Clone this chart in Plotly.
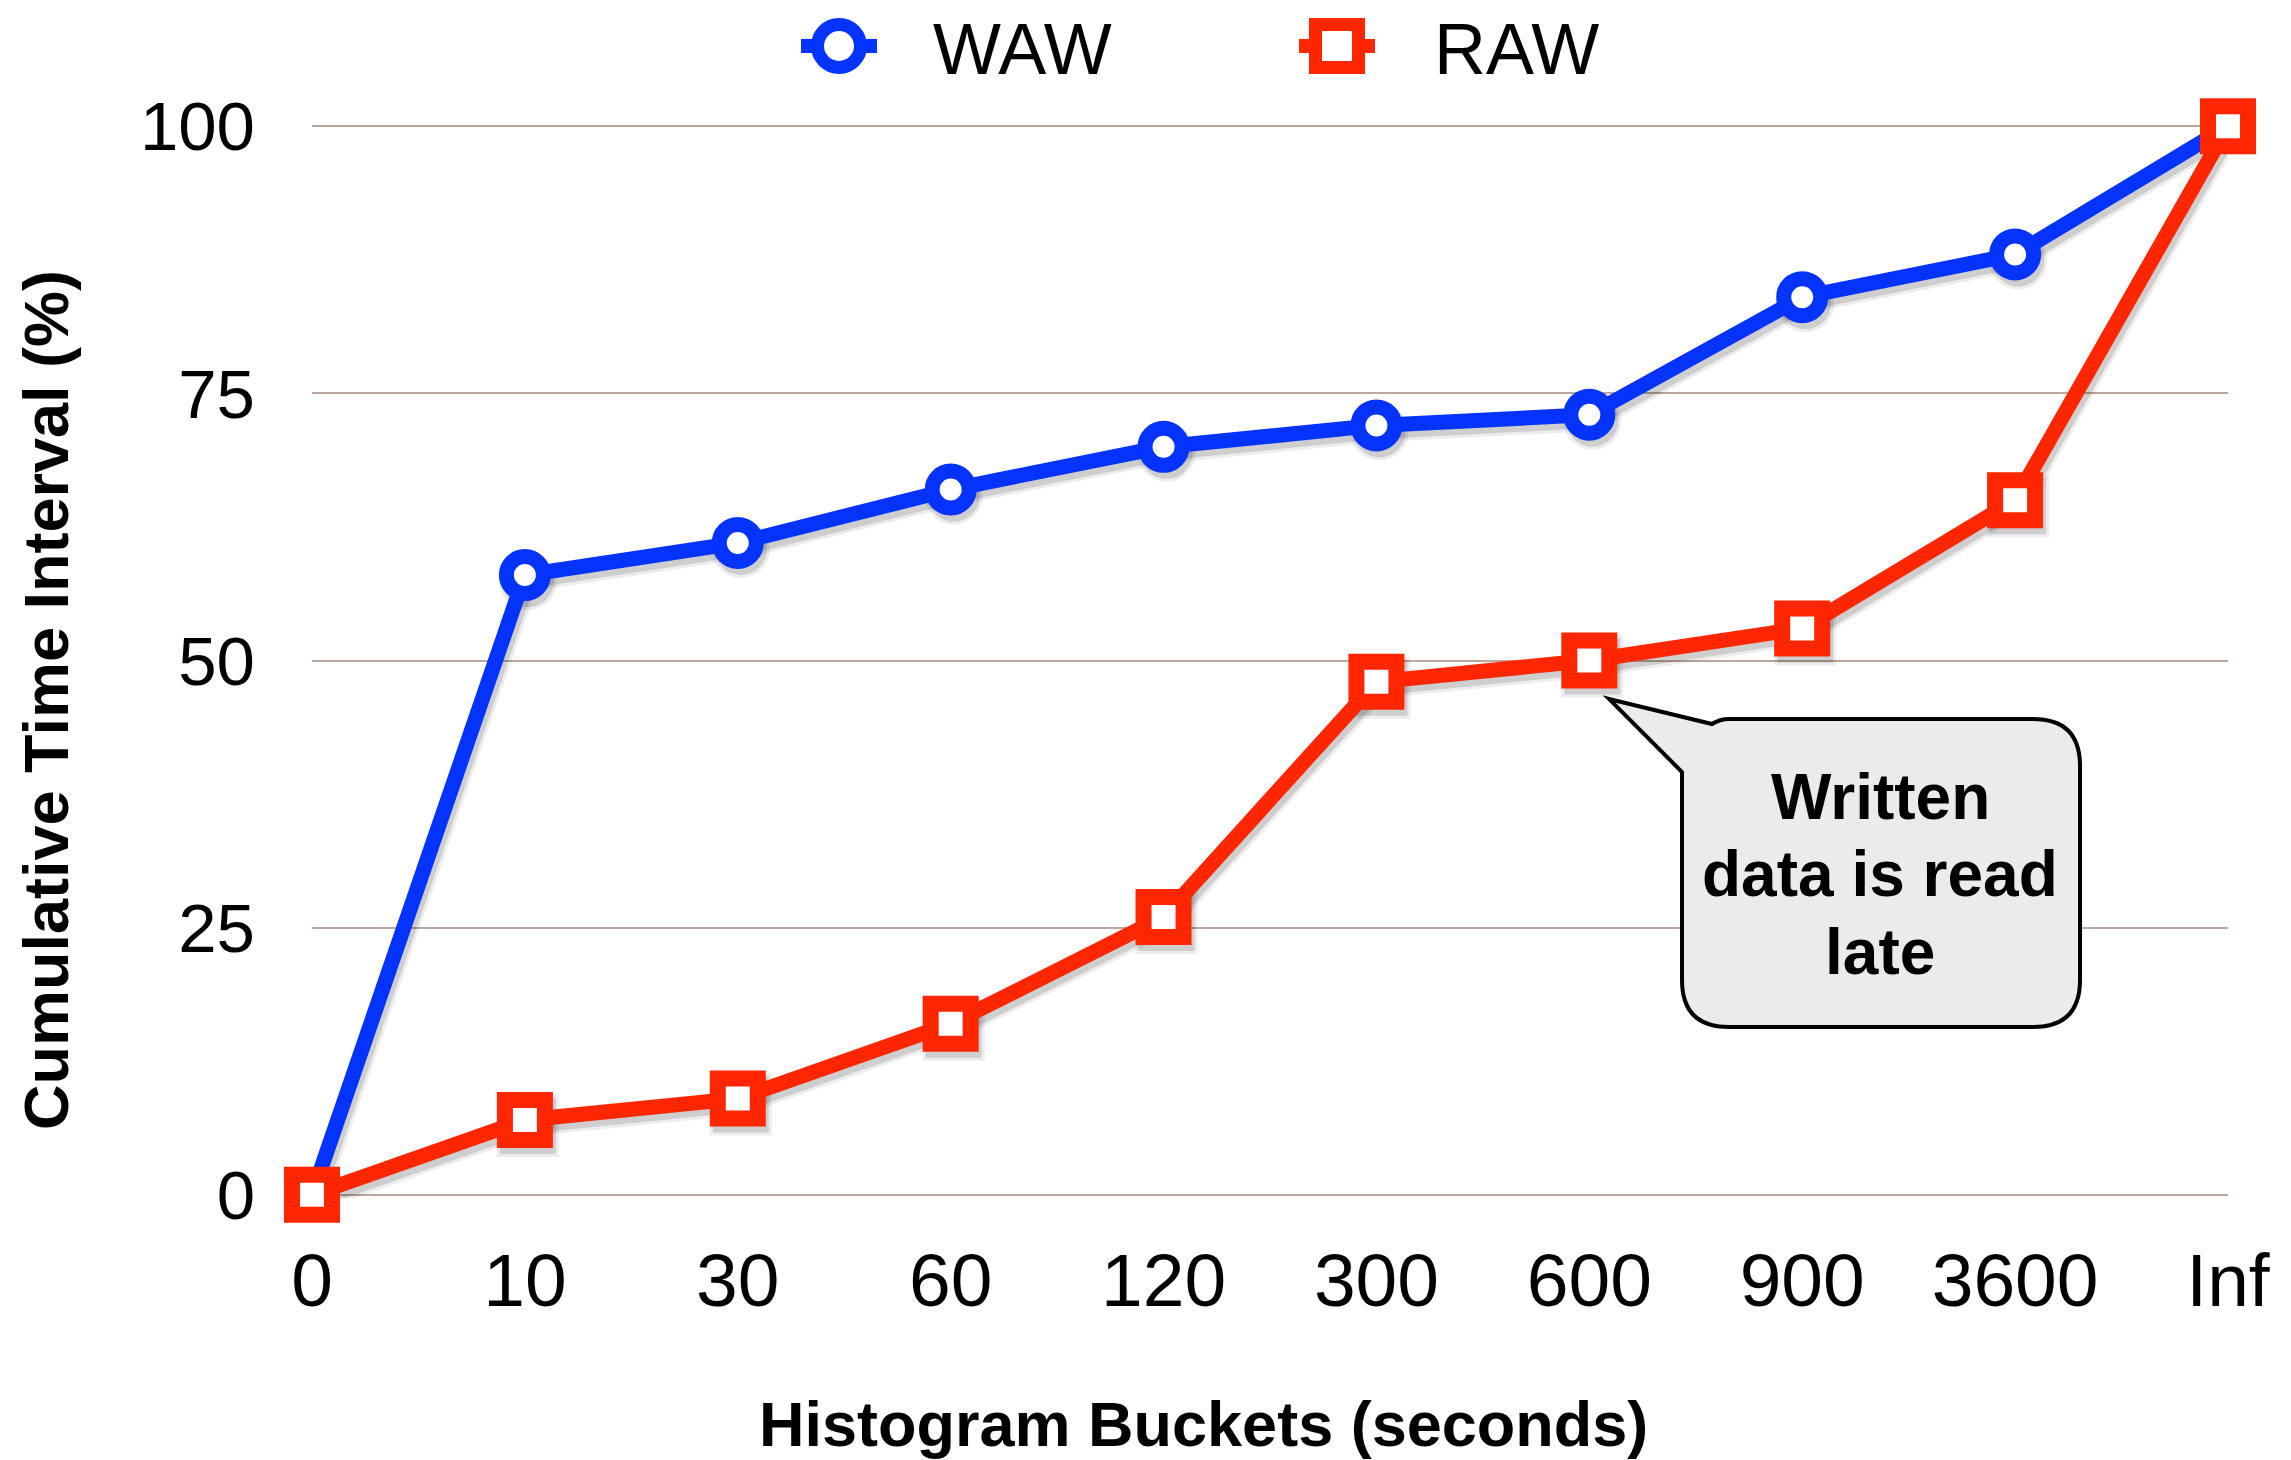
import plotly.graph_objects as go

# ---- data ----
buckets = ["0", "10", "30", "60", "120", "300", "600", "900", "3600", "Inf"]
waw = [0, 58, 61, 66, 70, 72, 73, 84, 88, 100]
raw = [0, 7, 9, 16, 26, 48, 50, 53, 65, 100]
y_ticks = [0, 25, 50, 75, 100]

BLUE = "#0433FF"
RED = "#FF2600"
GRID = "#BCA79D"
FONT = "Liberation Sans, Arial, Helvetica, sans-serif"

W, H = 2291, 1460
# plot-area pixel box
PL, PR, PT, PB = 312, 2228, 123, 1198


def px2x(px):
    return (px - PL) / (PR - PL)


def px2y(py):
    return (PB - py) / (PB - PT)


xs = list(range(len(buckets)))
YRANGE = [-0.3, 100.3]
x_unit = (PR - PL) / (len(buckets) - 1)
y_unit = (PB - PT) / (YRANGE[1] - YRANGE[0])

fig = go.Figure()

# soft drop shadows (offset copies of each series)
for series, sym, msize, mlw in [(waw, "circle", 37, 15), (raw, "square", 40, 16)]:
    for extra, alpha in [(6, 0.07), (0, 0.13)]:
        fig.add_trace(go.Scatter(
            x=[v + 3 / x_unit for v in xs],
            y=[v - 6 / y_unit for v in series],
            mode="lines+markers", hoverinfo="skip", showlegend=False,
            line=dict(color=f"rgba(0,0,0,{alpha})", width=15 + extra),
            marker=dict(symbol=sym, size=msize, color="rgba(0,0,0,0)",
                        line=dict(color=f"rgba(0,0,0,{alpha})",
                                  width=mlw + extra)),
            cliponaxis=False,
        ))

fig.add_trace(go.Scatter(
    x=xs, y=waw, name="WAW", mode="lines+markers",
    line=dict(color=BLUE, width=15),
    marker=dict(symbol="circle", size=37, color="white",
                line=dict(color=BLUE, width=15)),
    cliponaxis=False,
))
fig.add_trace(go.Scatter(
    x=xs, y=raw, name="RAW", mode="lines+markers",
    line=dict(color=RED, width=15),
    marker=dict(symbol="square", size=40, color="white",
                line=dict(color=RED, width=16)),
    cliponaxis=False,
))

# ---- custom legend drawn as decorations ----
LEG_Y = 46
for cx, tx, color, kind, label in [
    (839, 932, BLUE, "circle", "WAW"),
    (1337, 1433, RED, "rect", "RAW"),
]:
    fig.add_shape(type="line", xref="paper", yref="paper",
                  x0=px2x(cx - 38), x1=px2x(cx + 38),
                  y0=px2y(LEG_Y), y1=px2y(LEG_Y),
                  line=dict(color=color, width=14), layer="above")
    half = 21.5
    fig.add_shape(type=kind, xref="paper", yref="paper",
                  x0=px2x(cx - half), x1=px2x(cx + half),
                  y0=px2y(LEG_Y + half), y1=px2y(LEG_Y - half),
                  fillcolor="white", line=dict(color=color, width=13),
                  layer="above")
    fig.add_annotation(x=px2x(tx), y=px2y(LEG_Y + 3), xref="paper",
                       yref="paper", text=label, showarrow=False,
                       xanchor="left", yanchor="middle", borderpad=0,
                       font=dict(family=FONT, size=72, color="black"))

# ---- callout bubble ----
pts = [
    ("M", (1609, 699)),
    ("L", (1712, 724)),
    ("Q", (1720, 719), (1729, 719)),
    ("L", (2033, 719)),
    ("Q", (2080, 719), (2080, 766)),
    ("L", (2080, 980)),
    ("Q", (2080, 1027), (2033, 1027)),
    ("L", (1729, 1027)),
    ("Q", (1682, 1027), (1682, 980)),
    ("L", (1682, 772)),
]
path = ""
for item in pts:
    cmd = item[0]
    coords = " ".join(f"{px2x(p[0]):.5f},{px2y(p[1]):.5f}" for p in item[1:])
    path += f"{cmd} {coords} "
path += "Z"
fig.add_shape(type="path", path=path, xref="paper", yref="paper",
              fillcolor="#EBEBEB", line=dict(color="black", width=4),
              layer="above")
for line_text, cy in [("Written", 797), ("data is read", 874), ("late", 952)]:
    fig.add_annotation(x=px2x(1880), y=px2y(cy), xref="paper", yref="paper",
                       text=line_text, showarrow=False,
                       xanchor="center", yanchor="middle",
                       font=dict(family=FONT, size=64, color="black",
                                 weight="bold"))

# ---- axis titles ----
fig.add_annotation(x=px2x(1203), y=px2y(1424), xref="paper", yref="paper",
                   text="Histogram Buckets (seconds)", showarrow=False,
                   xanchor="center", yanchor="middle",
                   font=dict(family=FONT, size=63, color="black",
                             weight="bold"))
fig.add_annotation(x=px2x(46), y=px2y(700), xref="paper", yref="paper",
                   text="Cumulative Time Interval (%)", showarrow=False,
                   textangle=-90, xanchor="center", yanchor="middle",
                   font=dict(family=FONT, size=63, color="black",
                             weight="bold"))

fig.update_layout(
    width=W, height=H,
    margin=dict(l=PL, r=W - PR, t=PT, b=H - PB),
    paper_bgcolor="white", plot_bgcolor="white",
    showlegend=False,
    font=dict(family=FONT, color="black"),
)
fig.update_xaxes(
    range=[0, len(buckets) - 1], tickmode="array", tickvals=xs,
    ticktext=buckets, showgrid=False, zeroline=False, showline=False,
    ticks="", ticklabelstandoff=32,
    tickfont=dict(family=FONT, size=75, color="black"),
)
fig.update_yaxes(
    range=YRANGE, tickvals=y_ticks, showgrid=True, gridcolor=GRID,
    gridwidth=2, zeroline=False, showline=False, ticks="",
    ticklabelstandoff=56,
    tickfont=dict(family=FONT, size=69, color="black"),
)

# remove the default 8px page margin so the figure fills the window exactly
fig.write_html(
    "out.html",
    config={"displayModeBar": False},
    post_script="document.body.style.margin='0';"
                "document.body.style.overflow='hidden';",
)
